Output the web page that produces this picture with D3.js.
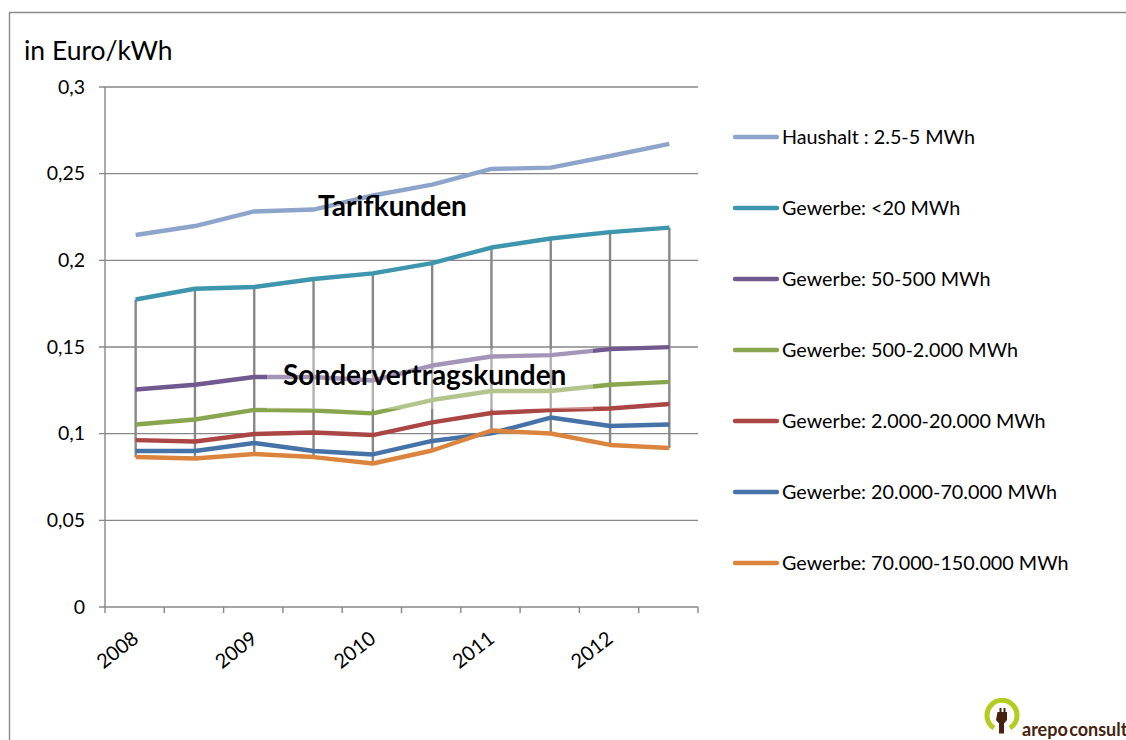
<!DOCTYPE html>
<html><head><meta charset="utf-8">
<script src="https://cdn.jsdelivr.net/npm/d3@7/dist/d3.min.js"></script>
<style>html,body{margin:0;padding:0;background:#fff}svg{display:block}text{font-family:Lato,"Open Sans",sans-serif;fill:#000}</style>
</head><body><svg id="c" width="1126" height="740"></svg>
<script>
const periods = ["2008","2008b","2009","2009b","2010","2010b","2011","2011b","2012","2012b"];
const tickLabels = ["2008","2009","2010","2011","2012"];
const yTicks = [0,0.05,0.1,0.15,0.2,0.25,0.3];
const yTickLabels = ["0","0,05","0,1","0,15","0,2","0,25","0,3"];
const seriesNames = ["Haushalt : 2.5-5 MWh","Gewerbe: <20 MWh","Gewerbe: 50-500 MWh","Gewerbe: 500-2.000 MWh","Gewerbe: 2.000-20.000 MWh","Gewerbe: 20.000-70.000 MWh","Gewerbe: 70.000-150.000 MWh"];
const seriesColors = ["#8ea5cb","#3d96ae","#71588f","#89a54e","#aa4643","#4572a7","#db843d"];
const haushalt = [.2146,.2198,.2282,.2293,.2374,.2437,.2527,.2535,.2602,.2672];
const gewerbe20 = [.1774,.1836,.1846,.1892,.1925,.1984,.2074,.2126,.2163,.2189];
const gewerbe500 = [.1255,.1282,.1327,.1327,.1307,.1393,.1445,.1453,.1488,.1499];
const gewerbe2000 = [.1053,.1082,.1137,.1134,.1117,.1194,.1246,.1246,.1282,.1299];
const gewerbe20000 = [.0963,.0955,.0998,.1007,.0992,.1065,.1119,.1136,.1145,.1171];
const gewerbe70000 = [.09,.09,.0946,.09,.088,.0958,.1002,.1093,.1044,.1053];
const gewerbe150000 = [.0865,.0857,.0883,.0865,.0828,.0903,.1018,.1001,.0935,.0917];
const allSeries = [haushalt,gewerbe20,gewerbe500,gewerbe2000,gewerbe20000,gewerbe70000,gewerbe150000];

const svg = d3.select("#c");
const L=105,R=698,T=87,B=607;
const x = d3.scaleBand().domain(periods).range([L,R]);
const cx = p => x(p)+x.bandwidth()/2+1;
const y = d3.scaleLinear().domain([0,0.3]).range([B,T]);
const gray="#878787";

// outer frame
svg.append("path").attr("d","M9.5 740V12.5H1126").attr("fill","none").attr("stroke","#8a8a8a").attr("stroke-width",1.4);

// gridlines
svg.append("g").selectAll("line").data(yTicks.filter(d=>d>0)).join("line")
 .attr("x1",L-6).attr("x2",R).attr("y1",d=>y(d)).attr("y2",d=>y(d)).attr("stroke",gray).attr("stroke-width",1.4);

// high-low lines
svg.append("g").selectAll("line").data(periods).join("line")
 .attr("x1",cx).attr("x2",cx)
 .attr("y1",(p,i)=>y(gewerbe20[i])).attr("y2",(p,i)=>y(gewerbe150000[i]))
 .attr("stroke",gray).attr("stroke-width",2.4);

// axes
svg.append("line").attr("x1",L).attr("x2",L).attr("y1",T).attr("y2",B).attr("stroke",gray).attr("stroke-width",1.4);
svg.append("line").attr("x1",L-6).attr("x2",R).attr("y1",B).attr("y2",B).attr("stroke",gray).attr("stroke-width",1.4);
const xEdges = periods.map(p=>x(p)).concat([R]);
svg.append("g").selectAll("line").data(xEdges).join("line")
 .attr("x1",d=>d).attr("x2",d=>d).attr("y1",B).attr("y2",B+6).attr("stroke",gray).attr("stroke-width",1.4);

// y labels
svg.append("g").selectAll("text").data(yTicks).join("text")
 .attr("x",85).attr("y",d=>y(d)+6.5).attr("text-anchor","end").attr("font-size",19.5).text((d,i)=>yTickLabels[i]);

// x labels
svg.append("g").selectAll("text").data(tickLabels).join("text")
 .attr("text-anchor","end").attr("font-size",20)
 .attr("transform",(d,i)=>`translate(${x(periods[i*2])+35},${B+34}) rotate(-38)`)
 .text(d=>d);

// lines
const line = d3.line().x((d,i)=>cx(periods[i])).y(d=>y(d));
svg.append("g").selectAll("path").data(allSeries).join("path")
 .attr("d",line).attr("fill","none").attr("stroke",(d,i)=>seriesColors[i]).attr("stroke-width",4.4).attr("stroke-linejoin","round");

// semi-transparent text boxes
svg.append("rect").attr("x",267).attr("y",349).attr("width",326).attr("height",60).attr("fill","#fff").attr("opacity",.36);
svg.append("text").attr("x",318).attr("y",216).attr("font-size",28).attr("font-weight",700).text("Tarifkunden");
svg.append("text").attr("x",283).attr("y",385).attr("font-size",28).attr("font-weight",700).text("Sondervertragskunden");

// axis title
svg.append("text").attr("x",24).attr("y",60).attr("font-size",26.5).text("in Euro/kWh");

// legend
const legendY = d3.scalePoint().domain(seriesNames).range([137,563]);
const lg = svg.append("g").selectAll("g").data(seriesNames).join("g").attr("transform",d=>`translate(0,${legendY(d)})`);
lg.append("line").attr("x1",735).attr("x2",777).attr("stroke",(d,i)=>seriesColors[i]).attr("stroke-width",4.4).attr("stroke-linecap","round");
lg.append("text").attr("x",782).attr("y",6.5).attr("font-size",19.75).text(d=>d);

// logo
const logo = svg.append("g");
logo.append("path").attr("d","M994 728A15 15 0 1 1 1010 728").attr("fill","none").attr("stroke","#b2cc1f").attr("stroke-width",5);
logo.append("path").attr("d","M997.5 712h2v-4h2v4h2v-4h2v4h1.5v8l-3 3.5v10h-5v-10l-3-3.5z").attr("fill","#46230f");
logo.append("text").attr("x",1022).attr("y",736).attr("font-size",18).attr("font-weight",700).attr("word-spacing",-3).style("fill","#46230f").text("arepo consult");
</script></body></html>
